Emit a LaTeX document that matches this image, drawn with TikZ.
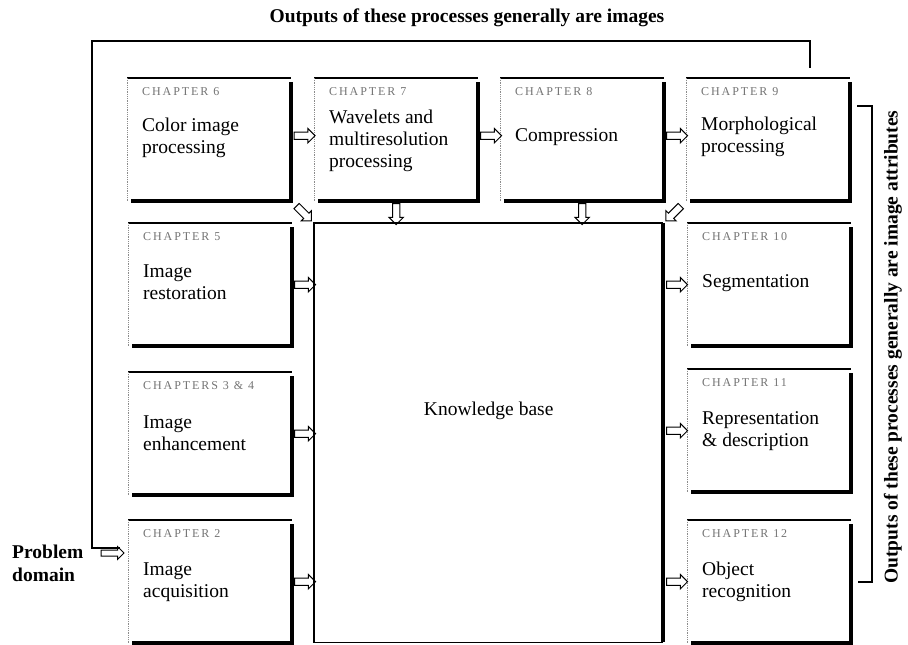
\documentclass[tikz,border=0pt]{standalone}
\usepackage{fontspec}
\setmainfont{Liberation Serif}
\usetikzlibrary{shapes.arrows,calc}
\begin{document}
\begin{tikzpicture}[x=1pt,y=-1pt,
  chbox/.style={minimum width=164pt, minimum height=123pt, inner sep=0pt, anchor=north west},
  chlab/.style={font=\fontsize{12}{14}\selectfont\addfontfeatures{LetterSpace=16}, text=black!55, anchor=north west, inner sep=0pt},
  chtxt/.style={font=\fontsize{19.5}{22}\selectfont, align=left, anchor=west, inner sep=0pt},
  harr/.style={single arrow, draw, line width=1pt, minimum height=21pt, inner xsep=0pt, inner ysep=3.2pt, single arrow head extend=3.5pt},
  thickedge/.style={line width=4pt},
  thinedge/.style={line width=1.1pt},
  bracket/.style={line width=1.6pt},
  boldlab/.style={font=\fontsize{19.5}{23}\selectfont\bfseries, inner sep=0pt}
]
\useasboundingbox (0,0) rectangle (908,645);

% boxes
\node[chbox] (c6)  at (127,78)  {};
\node[chbox] (c7)  at (314,78)  {};
\node[chbox] (c8)  at (500,78)  {};
\node[chbox] (c9)  at (686,78)  {};
\node[chbox] (c5)  at (128,223) {};
\node[chbox] (c34) at (128,372) {};
\node[chbox] (c2)  at (128,520) {};
\node[chbox] (c10) at (687,223) {};
\node[chbox] (c11) at (687,369) {};
\node[chbox] (c12) at (687,520) {};
\node[minimum width=349pt, minimum height=419pt, inner sep=0pt, anchor=north west] (kb) at (314,223) {};

\foreach \n in {c6,c7,c8,c9,c5,c34,c2,c10,c11,c12}{
  \draw[thinedge] (\n.north west) -- (\n.north east);
  \draw[black!45, densely dotted, line width=0.8pt] (\n.north west) -- (\n.south west);
  \draw[thickedge] ([yshift=-4pt]\n.north east) -- (\n.south east) -- ([xshift=4pt]\n.south west);
}
\draw[thinedge] (kb.north east) -- (kb.north west) -- (kb.south west) -- (kb.south east);
\draw[thickedge] (kb.north east) -- (kb.south east);

% chapter labels
\node[chlab] (l6)  at ([xshift=15pt,yshift=-9pt]c6.north west)  {CHAPTER 6};
\node[chlab] (l7)  at ([xshift=15pt,yshift=-9pt]c7.north west)  {CHAPTER 7};
\node[chlab] (l8)  at ([xshift=15pt,yshift=-9pt]c8.north west)  {CHAPTER 8};
\node[chlab] (l9)  at ([xshift=15pt,yshift=-9pt]c9.north west)  {CHAPTER 9};
\node[chlab] (l5)  at ([xshift=15pt,yshift=-9pt]c5.north west)  {CHAPTER 5};
\node[chlab] (l34) at ([xshift=15pt,yshift=-9pt]c34.north west) {CHAPTERS 3 \& 4};
\node[chlab] (l2)  at ([xshift=15pt,yshift=-9pt]c2.north west)  {CHAPTER 2};
\node[chlab] (l10) at ([xshift=15pt,yshift=-9pt]c10.north west) {CHAPTER 10};
\node[chlab] (l11) at ([xshift=15pt,yshift=-9pt]c11.north west) {CHAPTER 11};
\node[chlab] (l12) at ([xshift=15pt,yshift=-9pt]c12.north west) {CHAPTER 12};

% main texts
\node[chtxt] (t6)  at ([xshift=15pt,yshift=2pt]c6.west)  {Color image\\processing};
\node[chtxt] (t7)  at ([xshift=15pt,yshift=-1pt]c7.west) {Wavelets and\\multiresolution\\processing};
\node[chtxt] (t8)  at ([xshift=15pt,yshift=3pt]c8.west)  {Compression};
\node[chtxt] (t9)  at ([xshift=15pt,yshift=3pt]c9.west)  {Morphological\\processing};
\node[chtxt] (t5)  at ([xshift=15pt,yshift=2pt]c5.west)  {Image\\restoration};
\node[chtxt] (t34) at ([xshift=15pt,yshift=0pt]c34.west) {Image\\enhancement};
\node[chtxt] (t2)  at ([xshift=15pt,yshift=0pt]c2.west)  {Image\\acquisition};
\node[chtxt] (t10) at ([xshift=15pt,yshift=2pt]c10.west) {Segmentation};
\node[chtxt] (t11) at ([xshift=15pt,yshift=0pt]c11.west) {Representation\\\& description};
\node[chtxt] (t12) at ([xshift=15pt,yshift=0pt]c12.west) {Object\\recognition};
\node[font=\fontsize{19.5}{22}\selectfont, inner sep=0pt] (tkb) at ([yshift=22pt]kb.center) {Knowledge base};

% arrows
\node[harr] (a67)  at ($(c6.east)!0.5!(c7.west)+(0,-4)$) {};
\node[harr] (a78)  at ($(c7.east)!0.5!(c8.west)+(0,-4)$) {};
\node[harr] (a89)  at ($(c8.east)!0.5!(c9.west)+(0,-4)$) {};
\node[harr] (a5)   at ($(c5.east)!0.5!(c5.east -| kb.west)$) {};
\node[harr] (a34)  at ($(c34.east)!0.5!(c34.east -| kb.west)$) {};
\node[harr] (a2)   at ($(c2.east)!0.5!(c2.east -| kb.west)$) {};
\node[harr] (a10)  at ($(c10.west)!0.5!(c10.west -| kb.east)$) {};
\node[harr] (a11)  at ($(c11.west)!0.5!(c11.west -| kb.east)$) {};
\node[harr] (a12)  at ($(c12.west)!0.5!(c12.west -| kb.east)$) {};
\node[harr, rotate=-90] (a7d) at ($(c7.south)!0.5!(c7.south |- kb.north)$) {};
\node[harr, rotate=-90] (a8d) at ($(c8.south)!0.5!(c8.south |- kb.north)$) {};
\node[harr, rotate=-45] (a6c) at ($(c6.south east)!0.5!(kb.north west)$) {};
\node[harr, rotate=-135] (a9c) at ($(c9.south west)!0.5!(kb.north east)$) {};

% problem domain
\node[boldlab, align=left, anchor=west] (pd) at (12,563) {Problem\\domain};
\node[harr, minimum height=23pt, inner ysep=2.5pt] (pda) at (111,553) {};

% brackets
\coordinate (b1) at (120,548);
\coordinate (b2) at (92,548);
\coordinate (b3) at (92,41);
\coordinate (b4) at (810,41);
\coordinate (b5) at (810,68);
\draw[bracket] (b1) -- (b2) -- (b3) -- (b4) -- (b5);
\coordinate (r1) at (857,106);
\coordinate (r2) at (872,106);
\coordinate (r3) at (872,582);
\coordinate (r4) at (858,582);
\draw[bracket] (r1) -- (r2) -- (r3) -- (r4);

% titles
\node[boldlab] (ttop) at (467,18) {Outputs of these processes generally are images};
\node[boldlab, rotate=90] (tright) at (893,347) {Outputs of these processes generally are image attributes};
\end{tikzpicture}
\end{document}
